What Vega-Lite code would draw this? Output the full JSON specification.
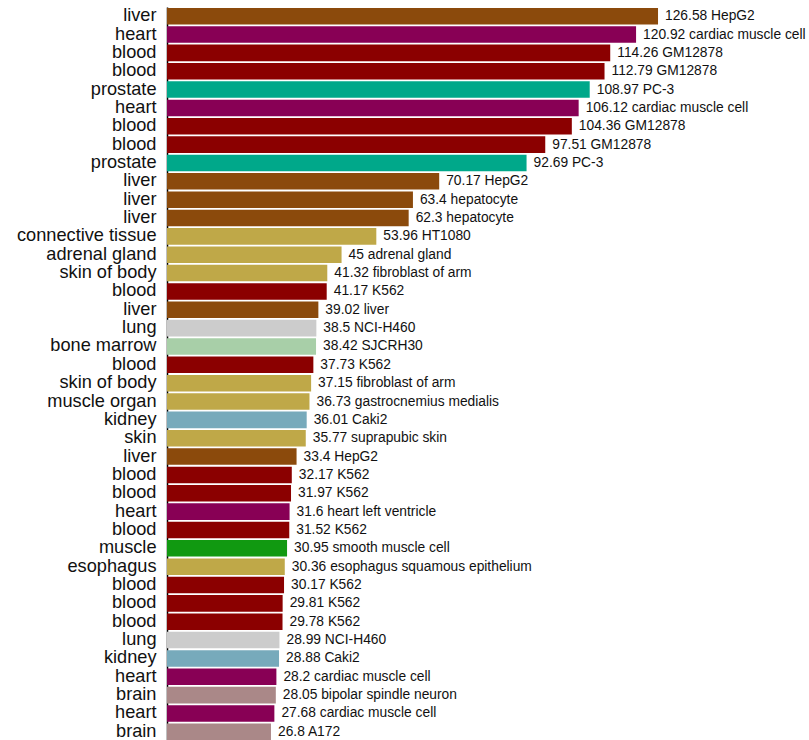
{
  "$schema": "https://vega.github.io/schema/vega-lite/v6.json",
  "autosize": "none",
  "padding": {"left": 167, "top": 7, "right": 0, "bottom": 0},
  "width": 642,
  "height": 734,
  "background": "white",
  "config": {"view": {"stroke": null}, "font": "Liberation Sans"},
  "data": {"values": [
    {"rank": 1, "tissue": "liver", "value": 126.58, "cell": "HepG2"},
    {"rank": 2, "tissue": "heart", "value": 120.92, "cell": "cardiac muscle cell"},
    {"rank": 3, "tissue": "blood", "value": 114.26, "cell": "GM12878"},
    {"rank": 4, "tissue": "blood", "value": 112.79, "cell": "GM12878"},
    {"rank": 5, "tissue": "prostate", "value": 108.97, "cell": "PC-3"},
    {"rank": 6, "tissue": "heart", "value": 106.12, "cell": "cardiac muscle cell"},
    {"rank": 7, "tissue": "blood", "value": 104.36, "cell": "GM12878"},
    {"rank": 8, "tissue": "blood", "value": 97.51, "cell": "GM12878"},
    {"rank": 9, "tissue": "prostate", "value": 92.69, "cell": "PC-3"},
    {"rank": 10, "tissue": "liver", "value": 70.17, "cell": "HepG2"},
    {"rank": 11, "tissue": "liver", "value": 63.4, "cell": "hepatocyte"},
    {"rank": 12, "tissue": "liver", "value": 62.3, "cell": "hepatocyte"},
    {"rank": 13, "tissue": "connective tissue", "value": 53.96, "cell": "HT1080"},
    {"rank": 14, "tissue": "adrenal gland", "value": 45, "cell": "adrenal gland"},
    {"rank": 15, "tissue": "skin of body", "value": 41.32, "cell": "fibroblast of arm"},
    {"rank": 16, "tissue": "blood", "value": 41.17, "cell": "K562"},
    {"rank": 17, "tissue": "liver", "value": 39.02, "cell": "liver"},
    {"rank": 18, "tissue": "lung", "value": 38.5, "cell": "NCI-H460"},
    {"rank": 19, "tissue": "bone marrow", "value": 38.42, "cell": "SJCRH30"},
    {"rank": 20, "tissue": "blood", "value": 37.73, "cell": "K562"},
    {"rank": 21, "tissue": "skin of body", "value": 37.15, "cell": "fibroblast of arm"},
    {"rank": 22, "tissue": "muscle organ", "value": 36.73, "cell": "gastrocnemius medialis"},
    {"rank": 23, "tissue": "kidney", "value": 36.01, "cell": "Caki2"},
    {"rank": 24, "tissue": "skin", "value": 35.77, "cell": "suprapubic skin"},
    {"rank": 25, "tissue": "liver", "value": 33.4, "cell": "HepG2"},
    {"rank": 26, "tissue": "blood", "value": 32.17, "cell": "K562"},
    {"rank": 27, "tissue": "blood", "value": 31.97, "cell": "K562"},
    {"rank": 28, "tissue": "heart", "value": 31.6, "cell": "heart left ventricle"},
    {"rank": 29, "tissue": "blood", "value": 31.52, "cell": "K562"},
    {"rank": 30, "tissue": "muscle", "value": 30.95, "cell": "smooth muscle cell"},
    {"rank": 31, "tissue": "esophagus", "value": 30.36, "cell": "esophagus squamous epithelium"},
    {"rank": 32, "tissue": "blood", "value": 30.17, "cell": "K562"},
    {"rank": 33, "tissue": "blood", "value": 29.81, "cell": "K562"},
    {"rank": 34, "tissue": "blood", "value": 29.78, "cell": "K562"},
    {"rank": 35, "tissue": "lung", "value": 28.99, "cell": "NCI-H460"},
    {"rank": 36, "tissue": "kidney", "value": 28.88, "cell": "Caki2"},
    {"rank": 37, "tissue": "heart", "value": 28.2, "cell": "cardiac muscle cell"},
    {"rank": 38, "tissue": "brain", "value": 28.05, "cell": "bipolar spindle neuron"},
    {"rank": 39, "tissue": "heart", "value": 27.68, "cell": "cardiac muscle cell"},
    {"rank": 40, "tissue": "brain", "value": 26.8, "cell": "A172"}
  ]},
  "transform": [
    {"calculate": "datum.rank + '|' + datum.tissue", "as": "key"},
    {"calculate": "datum.value + ' ' + datum.cell", "as": "label"}
  ],
  "encoding": {
    "y": {
      "field": "key", "type": "nominal",
      "sort": {"field": "rank", "op": "min", "order": "ascending"},
      "scale": {"paddingInner": 0.1, "paddingOuter": 0.05},
      "axis": {
        "title": null, "ticks": false,
        "labelExpr": "split(datum.label, '|')[1]",
        "labelFont": "Liberation Sans", "labelFontSize": 18.2, "labelColor": "#111",
        "labelPadding": 11, "labelLimit": 200,
        "domainColor": "#000", "domainWidth": 1.5
      }
    },
    "x": {"field": "value", "type": "quantitative", "scale": {"domain": [0, 165.5], "nice": false}, "axis": null}
  },
  "layer": [
    {
      "mark": {"type": "bar"},
      "encoding": {
        "color": {
          "field": "tissue", "type": "nominal", "legend": null,
          "scale": {
            "domain": ["liver", "heart", "blood", "prostate", "connective tissue", "adrenal gland", "skin of body", "lung", "bone marrow", "muscle organ", "kidney", "skin", "muscle", "esophagus", "brain"],
            "range": ["#8b4a0c", "#880055", "#8b0000", "#00a88a", "#bfa848", "#bfa848", "#bfa848", "#cccccc", "#a8cfa8", "#bfa848", "#77aabb", "#bfa848", "#119911", "#bfa848", "#aa8888"]
          }
        }
      }
    },
    {
      "mark": {"type": "text", "align": "left", "baseline": "middle", "dx": 7, "fontSize": 13.8, "font": "Liberation Sans", "color": "#111"},
      "encoding": {"text": {"field": "label"}}
    }
  ]
}
